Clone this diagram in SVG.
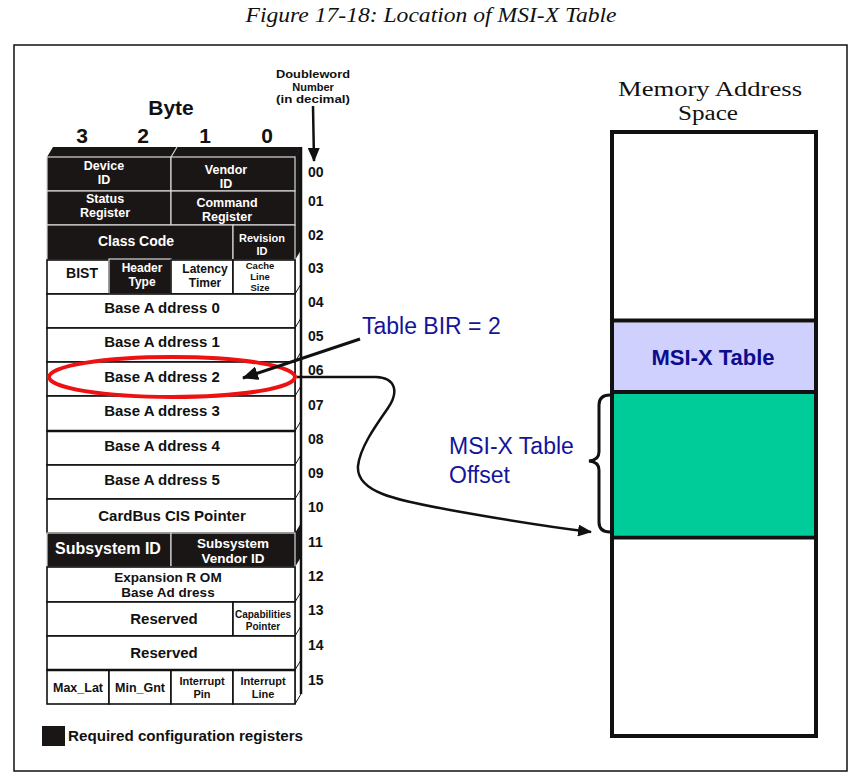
<svg xmlns="http://www.w3.org/2000/svg" width="864" height="784" viewBox="0 0 864 784">
<defs>
<style>
.t{font-family:"Liberation Sans",Arial,sans-serif;font-weight:bold;text-anchor:middle;}
.w{fill:#ffffff;}
.k{fill:#111111;}
.blk{fill:#1b1616;stroke:#d8d8d8;stroke-width:1.2;}
.wht{fill:#ffffff;stroke:#111111;stroke-width:1.6;}
.num{font-family:"Liberation Sans",Arial,sans-serif;font-weight:bold;font-size:14px;fill:#111;}
.blue{font-family:"Liberation Sans",Arial,sans-serif;font-size:23px;fill:#14149a;}
.serif{font-family:"Liberation Serif","Times New Roman",serif;fill:#111;}
.conn{fill:none;stroke:#111;}
</style>
<marker id="ah" markerUnits="userSpaceOnUse" markerWidth="16" markerHeight="14" refX="15" refY="7" orient="auto">
<path d="M0,0 L16,7 L0,14 Z" fill="#111"/>
</marker>
<marker id="ah2" markerUnits="userSpaceOnUse" markerWidth="14" markerHeight="12" refX="13" refY="6" orient="auto">
<path d="M0,0 L14,6 L0,12 Z" fill="#111"/>
</marker>
</defs>
<rect x="0" y="0" width="864" height="784" fill="#ffffff"/>
<text class="serif" x="431" y="22" font-size="22" font-style="italic" text-anchor="middle" textLength="371" lengthAdjust="spacingAndGlyphs">Figure 17-18: Location of MSI-X Table</text>
<rect id="frame" x="14" y="45" width="833" height="726" fill="#ffffff" stroke="#111" stroke-width="1.5"/>

<g id="headings">
<text class="t k" x="313" y="78" font-size="11" textLength="74" lengthAdjust="spacingAndGlyphs">Doubleword</text>
<text class="t k" x="313" y="90.7" font-size="11">Number</text>
<text class="t k" x="313" y="103.4" font-size="11" textLength="74" lengthAdjust="spacingAndGlyphs">(in decimal)</text>
<text class="t k" x="171" y="115" font-size="21">Byte</text>
<text class="t k" x="82" y="143" font-size="21">3</text>
<text class="t k" x="143" y="143" font-size="21">2</text>
<text class="t k" x="205" y="143" font-size="21">1</text>
<text class="t k" x="267" y="143" font-size="21">0</text>
</g>

<g id="header-3d">
<polygon points="47,157 53,147 301,147 295,157" fill="#1b1616"/>
<line x1="171" y1="157" x2="177" y2="147" stroke="#d8d8d8" stroke-width="1.2"/>
<polygon points="295,157 301,147 301,694 295,704" fill="#ffffff" stroke="#111" stroke-width="1"/>
<polygon points="295,157 301,147 301,250 295,260" fill="#1b1616"/>
<polygon points="295,533 301,523 301,557 295,567" fill="#1b1616"/>
<g stroke="#111" stroke-width="1">
<line x1="295" y1="294" x2="301" y2="284"/>
<line x1="295" y1="328" x2="301" y2="318"/>
<line x1="295" y1="362" x2="301" y2="352"/>
<line x1="295" y1="396" x2="301" y2="386"/>
<line x1="295" y1="431" x2="301" y2="421"/>
<line x1="295" y1="465" x2="301" y2="455"/>
<line x1="295" y1="499" x2="301" y2="489"/>
<line x1="295" y1="602" x2="301" y2="592"/>
<line x1="295" y1="636" x2="301" y2="626"/>
<line x1="295" y1="670" x2="301" y2="660"/>
</g>
<line x1="301" y1="147" x2="301" y2="694" stroke="#111" stroke-width="2.5"/>
</g>

<g id="row00">
<rect class="blk" x="47" y="157" width="124" height="34"/>
<rect class="blk" x="171" y="157" width="124" height="34"/>
<text class="t w" x="104" y="170" font-size="12.5">Device</text>
<text class="t w" x="104" y="184" font-size="12.5">ID</text>
<text class="t w" x="226" y="174" font-size="12.5">Vendor</text>
<text class="t w" x="226" y="188" font-size="12.5">ID</text>
</g>
<g id="row01">
<rect class="blk" x="47" y="191" width="124" height="34"/>
<rect class="blk" x="171" y="191" width="124" height="34"/>
<text class="t w" x="105" y="203" font-size="12.5">Status</text>
<text class="t w" x="105" y="217" font-size="12.5">Register</text>
<text class="t w" x="227" y="207" font-size="12.5">Command</text>
<text class="t w" x="227" y="221" font-size="12.5">Register</text>
</g>
<g id="row02">
<rect class="blk" x="47" y="225" width="186" height="35"/>
<rect class="blk" x="233" y="225" width="62" height="35"/>
<text class="t w" x="136" y="246" font-size="14">Class Code</text>
<text class="t w" x="262" y="242" font-size="11">Revision</text>
<text class="t w" x="262" y="255" font-size="11">ID</text>
</g>
<g id="row03">
<rect class="wht" x="47" y="260" width="62" height="34"/>
<rect class="blk" x="109" y="259" width="62" height="35"/>
<rect class="wht" x="171" y="260" width="62" height="34"/>
<rect class="wht" x="233" y="260" width="62" height="34"/>
<text class="t k" x="82" y="278" font-size="14">BIST</text>
<text class="t w" x="142" y="272" font-size="12">Header</text>
<text class="t w" x="142" y="286" font-size="12">Type</text>
<text class="t k" x="205" y="273" font-size="12">Latency</text>
<text class="t k" x="205" y="287" font-size="12">Timer</text>
<text class="t k" x="260" y="269" font-size="9.5">Cache</text>
<text class="t k" x="260" y="280" font-size="9.5">Line</text>
<text class="t k" x="260" y="291" font-size="9.5">Size</text>
</g>
<g id="row04">
<rect class="wht" x="47" y="294" width="248" height="34"/>
<text class="t k" x="162" y="313" font-size="15">Base A ddress 0</text>
</g>
<g id="row05">
<rect class="wht" x="47" y="328" width="248" height="34"/>
<text class="t k" x="162" y="347" font-size="15">Base A ddress 1</text>
</g>
<g id="row06">
<rect class="wht" x="47" y="362" width="248" height="34"/>
<text class="t k" x="162" y="382" font-size="15">Base A ddress 2</text>
</g>
<g id="row07">
<rect class="wht" x="47" y="396" width="248" height="35"/>
<text class="t k" x="162" y="416" font-size="15">Base A ddress 3</text>
</g>
<g id="row08">
<rect class="wht" x="47" y="431" width="248" height="34"/>
<line x1="47" y1="431" x2="295" y2="431" stroke="#111" stroke-width="2.5"/>
<text class="t k" x="162" y="451" font-size="15">Base A ddress 4</text>
</g>
<g id="row09">
<rect class="wht" x="47" y="465" width="248" height="34"/>
<text class="t k" x="162" y="485" font-size="15">Base A ddress 5</text>
</g>
<g id="row10">
<rect class="wht" x="47" y="499" width="248" height="34"/>
<text class="t k" x="172" y="521" font-size="15">CardBus CIS Pointer</text>
</g>
<g id="row11">
<rect class="blk" x="47" y="533" width="124" height="34"/>
<rect class="blk" x="171" y="533" width="124" height="34"/>
<text class="t w" x="108" y="554" font-size="16">Subsystem ID</text>
<text class="t w" x="233" y="548" font-size="13.5">Subsystem</text>
<text class="t w" x="233" y="563" font-size="13.5">Vendor ID</text>
</g>
<g id="row12">
<rect class="wht" x="47" y="567" width="248" height="35"/>
<text class="t k" x="168" y="582" font-size="13.5">Expansion R OM</text>
<text class="t k" x="168" y="597" font-size="13.5">Base Ad dress</text>
</g>
<g id="row13">
<rect class="wht" x="47" y="602" width="186" height="34"/>
<rect class="wht" x="233" y="602" width="62" height="34"/>
<text class="t k" x="164" y="624" font-size="15">Reserved</text>
<text class="t k" x="263" y="618" font-size="10">Capabilities</text>
<text class="t k" x="263" y="630" font-size="10">Pointer</text>
</g>
<g id="row14">
<rect class="wht" x="47" y="636" width="248" height="34"/>
<text class="t k" x="164" y="658" font-size="15">Reserved</text>
</g>
<g id="row15">
<rect class="wht" x="47" y="670" width="62" height="34"/>
<rect class="wht" x="109" y="670" width="62" height="34"/>
<rect class="wht" x="171" y="670" width="62" height="34"/>
<rect class="wht" x="233" y="670" width="62" height="34"/>
<line x1="47" y1="670" x2="295" y2="670" stroke="#111" stroke-width="2.5"/>
<text class="t k" x="78" y="692" font-size="12.5">Max_Lat</text>
<text class="t k" x="140" y="692" font-size="12.5">Min_Gnt</text>
<text class="t k" x="202" y="685" font-size="11">Interrupt</text>
<text class="t k" x="202" y="698" font-size="11">Pin</text>
<text class="t k" x="263" y="685" font-size="11">Interrupt</text>
<text class="t k" x="263" y="698" font-size="11">Line</text>
</g>

<g id="dword-numbers">
<text class="num" x="308" y="177">00</text>
<text class="num" x="308" y="206">01</text>
<text class="num" x="308" y="240">02</text>
<text class="num" x="308" y="273">03</text>
<text class="num" x="308" y="307">04</text>
<text class="num" x="308" y="341">05</text>
<text class="num" x="308" y="375">06</text>
<text class="num" x="308" y="410">07</text>
<text class="num" x="308" y="444">08</text>
<text class="num" x="308" y="478">09</text>
<text class="num" x="308" y="512">10</text>
<text class="num" x="308" y="547">11</text>
<text class="num" x="308" y="581">12</text>
<text class="num" x="308" y="615">13</text>
<text class="num" x="308" y="650">14</text>
<text class="num" x="308" y="685">15</text>
</g>

<g id="highlight">
<ellipse cx="172" cy="377" rx="123" ry="20" fill="none" stroke="#ee1111" stroke-width="4"/>
</g>

<g id="label-bir">
<text class="blue" x="362" y="334">Table BIR = 2</text>
</g>
<g id="label-offset">
<text class="blue" x="449" y="454">MSI-X Table</text>
<text class="blue" x="449" y="483">Offset</text>
</g>

<g id="memory">
<text class="serif" x="710" y="96" font-size="20" text-anchor="middle" textLength="184" lengthAdjust="spacingAndGlyphs">Memory Address</text>
<text class="serif" x="708" y="120" font-size="20" text-anchor="middle" textLength="60" lengthAdjust="spacingAndGlyphs">Space</text>
<rect x="612" y="132" width="204" height="604" fill="#ffffff" stroke="#111" stroke-width="4"/>
<g id="msix-table">
<rect x="614" y="322.5" width="200" height="68" fill="#d0d0ff"/>
<text class="t" x="713" y="365" font-size="22" fill="#0c0c8c">MSI-X Table</text>
</g>
<g id="offset-region">
<rect x="614" y="394" width="200" height="141.5" fill="#00cc99"/>
</g>
<line x1="612" y1="320.5" x2="816" y2="320.5" stroke="#111" stroke-width="4"/>
<line x1="612" y1="392" x2="816" y2="392" stroke="#111" stroke-width="4"/>
<line x1="612" y1="537.5" x2="816" y2="537.5" stroke="#111" stroke-width="4"/>
</g>

<g id="brace">
<path class="conn" stroke-width="3" d="M610,395 Q599,395 599,405 L599,452 Q599,460 589,461 Q599,462 599,470 L599,522 Q599,532 610,532"/>
</g>

<g id="legend">
<rect x="42" y="726" width="23" height="20" fill="#1b1616"/>
<text x="68" y="741" font-family="&quot;Liberation Sans&quot;,Arial,sans-serif" font-weight="bold" font-size="14" fill="#111" textLength="235" lengthAdjust="spacingAndGlyphs">Required configuration registers</text>
</g>

<g id="connectors">
<line class="conn" x1="313" y1="106" x2="314" y2="161" stroke-width="2.5" marker-end="url(#ah2)"/>
<line class="conn" x1="360" y1="339" x2="243" y2="378" stroke-width="3" marker-end="url(#ah)"/>
<path class="conn" stroke-width="2.5" marker-end="url(#ah2)" d="M297,377 L376,377 C396,378 399,392 388,408 C374,428 360,448 358,466 C356,492 395,500 450,510 C500,519 550,527 591,532"/>
</g>
</svg>
